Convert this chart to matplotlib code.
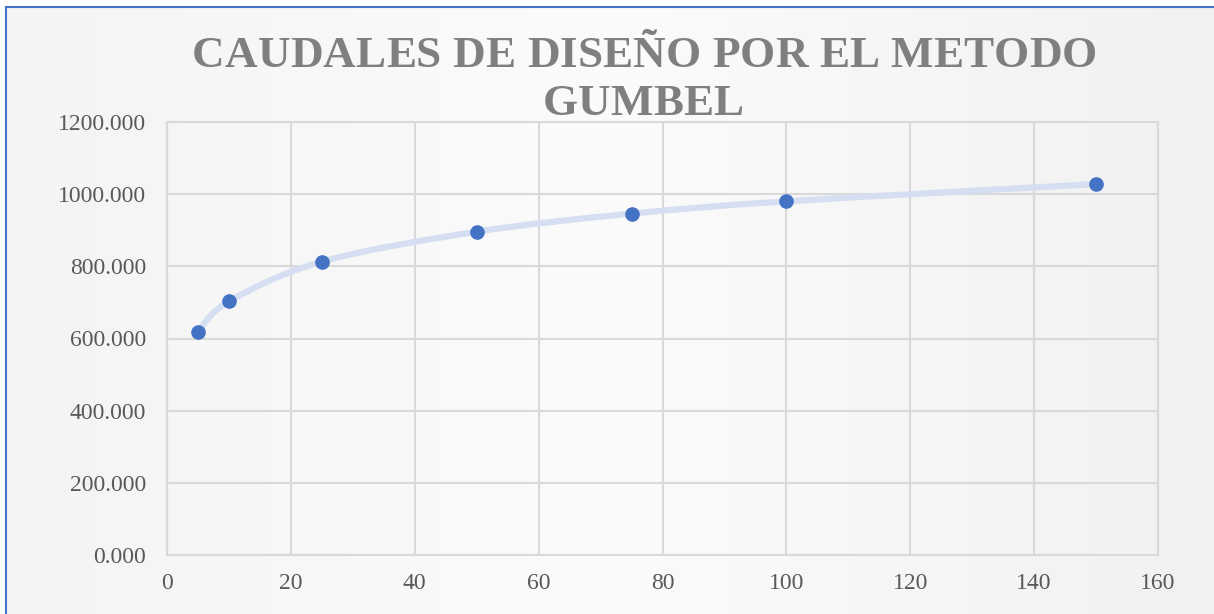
import numpy as np
import matplotlib
matplotlib.use('Agg')
import matplotlib.pyplot as plt
from matplotlib.path import Path
from matplotlib.patches import PathPatch
from matplotlib.font_manager import FontProperties

# periodo de retorno (años) y caudal de diseño
periodos = [5, 10, 25, 50, 75, 100, 150]
caudales = [619.0, 703.0, 813.0, 896.0, 946.0, 980.0, 1028.0]

titulo = ["CAUDALES DE DISEÑO POR EL METODO", "GUMBEL"]
x_ticks = [0, 20, 40, 60, 80, 100, 120, 140, 160]
y_ticks = [0, 200, 400, 600, 800, 1000, 1200]

W, H = 1214, 614
fig = plt.figure(figsize=(W / 100, H / 100), dpi=100)
fig.patch.set_facecolor('white')

# fondo gris claro con degradado
bg = fig.add_axes([6 / W, 0, 1 - 6 / W, 1 - 7 / H])
grad = np.linspace(0, 1, 256)
img = np.outer(np.ones(64), grad)
bg.imshow(img, cmap=matplotlib.colors.LinearSegmentedColormap.from_list(
    'g', ['#f4f4f4', '#fbfbfb', '#f1f1f1']), aspect='auto', extent=[0, 1, 0, 1])
bg.set_axis_off()

# borde azul (izquierda y arriba)
fig.add_artist(plt.Line2D([6 / W, 6 / W], [0, 1 - 7 / H], color='#4472c4', lw=1.5))
fig.add_artist(plt.Line2D([6 / W, 1], [1 - 7 / H, 1 - 7 / H], color='#4472c4', lw=1.5))

ax = fig.add_axes([167 / W, 59 / H, (1158 - 167) / W, (555 - 122) / H])
ax.set_facecolor('none')
ax.set_xlim(0, 160)
ax.set_ylim(0, 1200)
ax.set_xticks(x_ticks)
ax.set_yticks(y_ticks)
ax.set_yticklabels([f"{v:.3f}" for v in y_ticks])
ax.grid(True, color='#d9d9d9', lw=1.5)
ax.set_axisbelow(True)
for s in ax.spines.values():
    s.set_color('#d9d9d9')
    s.set_linewidth(1.5)
ax.tick_params(length=0, labelsize=17, labelcolor='#595959')
ax.tick_params(axis='y', pad=15)
ax.tick_params(axis='x', pad=13)
for lab in ax.get_xticklabels() + ax.get_yticklabels():
    lab.set_fontfamily('Liberation Serif')

# linea suavizada (Catmull-Rom en espacio de pixeles)
sx = 991 / 160
sy = 433 / 1200
pts = np.column_stack([np.array(periodos) * sx, np.array(caudales) * sy])
verts = [pts[0]]
codes = [Path.MOVETO]
n = len(pts)
for i in range(n - 1):
    p0 = pts[max(i - 1, 0)]
    p1 = pts[i]
    p2 = pts[i + 1]
    p3 = pts[min(i + 2, n - 1)]
    c1 = p1 + (p2 - p0) / 6
    c2 = p2 - (p3 - p1) / 6
    verts += [c1, c2, p2]
    codes += [Path.CURVE4] * 3
verts = np.array(verts) / np.array([sx, sy])
ax.add_patch(PathPatch(Path(verts, codes), fill=False, edgecolor='#d5dff1',
                       lw=4.5, capstyle='round', zorder=3))

ax.plot(periodos, caudales, 'o', color='#4472c4', markersize=9.5, zorder=4)

# titulo con espaciado entre letras, letra por letra
fp = FontProperties(family='Liberation Serif', weight='bold', size=32.5)
renderer = fig.canvas.get_renderer()


def char_w(ch):
    if ch == ' ':
        w1 = renderer.get_text_width_height_descent('a a', fp, ismath=False)[0]
        w2 = renderer.get_text_width_height_descent('aa', fp, ismath=False)[0]
        return w1 - w2
    return renderer.get_text_width_height_descent(ch, fp, ismath=False)[0]


widths0 = [char_w(c) for c in titulo[0]]
track = (905 - sum(widths0)) / (len(titulo[0]) - 1)
centros = [644.5, 643]
bases = [67, 115]
for linea, cx, by in zip(titulo, centros, bases):
    ws = [char_w(c) for c in linea]
    total = sum(ws) + track * (len(linea) - 1)
    xpos = cx - total / 2
    for c, w in zip(linea, ws):
        fig.text(xpos / W, 1 - by / H, c, ha='left', va='baseline',
                 fontproperties=fp, color='#7f7f7f')
        xpos += w + track

fig.savefig('out.png', dpi=100)
